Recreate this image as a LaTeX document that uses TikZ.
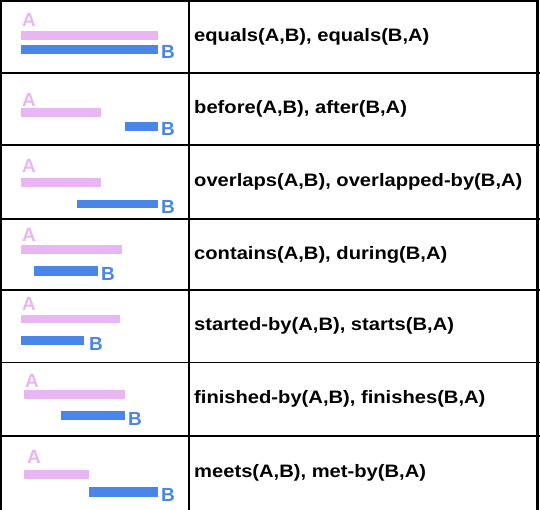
\documentclass[tikz,border=0pt]{standalone}
\usepackage{fontspec}
\newfontfamily\rowfont[FakeStretch=1.12]{Liberation Sans}
\newfontfamily\lblfont{Liberation Sans}
\definecolor{barpink}{RGB}{232,182,242}
\definecolor{barblue}{RGB}{74,134,232}
\begin{document}
\begin{tikzpicture}[x=1pt,y=-1pt,
  pinkbar/.style={fill=barpink,draw=none},
  bluebar/.style={fill=barblue,draw=none},
  lblA/.style={text=barpink,font=\lblfont\bfseries\fontsize{19}{19}\selectfont,inner sep=0pt,anchor=base west},
  lblB/.style={text=barblue,font=\lblfont\bfseries\fontsize{19}{19}\selectfont,inner sep=0pt,anchor=base west},
  reltext/.style={font=\rowfont\bfseries\fontsize{18}{20}\selectfont,inner sep=0pt,anchor=west},
  grid/.style={draw=black,line width=2.3pt}]
\useasboundingbox (0,0) rectangle (540,510);
\fill[white] (0,0) rectangle (540,510);
% grid
\draw[grid] (1.3,1.3) -- (537.6,1.3);
\draw[grid] (1.3,0) -- (1.3,520);
\draw[grid] (188.8,0) -- (188.8,520);
\draw[grid] (537.6,0) -- (537.6,520);
\foreach \yy in {72.8,145,218.8,290} \draw[grid] (0,\yy) -- (540,\yy);
\foreach \yy in {362.5,436.2} \draw[draw=black,line width=1.7pt] (0,\yy) -- (540,\yy);
% row 1
\fill[pinkbar] (21,31) rectangle (158,40);
\fill[bluebar] (21,45) rectangle (158,54);
\node[lblA] (a1) at (22,27) {A};
\node[lblB] (b1) at (161,59) {B};
\node[reltext] (t1) at (194,37) {equals(A,B), equals(B,A)};
% row 2
\fill[pinkbar] (21,108) rectangle (101,117);
\fill[bluebar] (125,122) rectangle (158,131);
\node[lblA] (a2) at (22,107) {A};
\node[lblB] (b2) at (161,136) {B};
\node[reltext] (t2) at (194,109) {before(A,B), after(B,A)};
% row 3
\fill[pinkbar] (21,178) rectangle (101,187);
\fill[bluebar] (77,200) rectangle (158,208);
\node[lblA] (a3) at (22,173) {A};
\node[lblB] (b3) at (161,214) {B};
\node[reltext] (t3) at (194,182) {overlaps(A,B), overlapped-by(B,A)};
% row 4
\fill[pinkbar] (21,245) rectangle (122,254);
\fill[bluebar] (34,266) rectangle (98,276);
\node[lblA] (a4) at (22,242) {A};
\node[lblB] (b4) at (101,280) {B};
\node[reltext] (t4) at (194,255) {contains(A,B), during(B,A)};
% row 5
\fill[pinkbar] (21,315) rectangle (120,323);
\fill[bluebar] (21,336) rectangle (84,345);
\node[lblA] (a5) at (22,310) {A};
\node[lblB] (b5) at (89,350) {B};
\node[reltext] (t5) at (194,326) {started-by(A,B), starts(B,A)};
% row 6
\fill[pinkbar] (24,390) rectangle (125,399);
\fill[bluebar] (61,411) rectangle (125,420);
\node[lblA] (a6) at (25,387) {A};
\node[lblB] (b6) at (128,425) {B};
\node[reltext] (t6) at (194,399) {finished-by(A,B), finishes(B,A)};
% row 7
\fill[pinkbar] (24,470) rectangle (89,479);
\fill[bluebar] (89,487) rectangle (158,497);
\node[lblA] (a7) at (27,463) {A};
\node[lblB] (b7) at (161,501) {B};
\node[reltext] (t7) at (194,473) {meets(A,B), met-by(B,A)};
\end{tikzpicture}
\end{document}
